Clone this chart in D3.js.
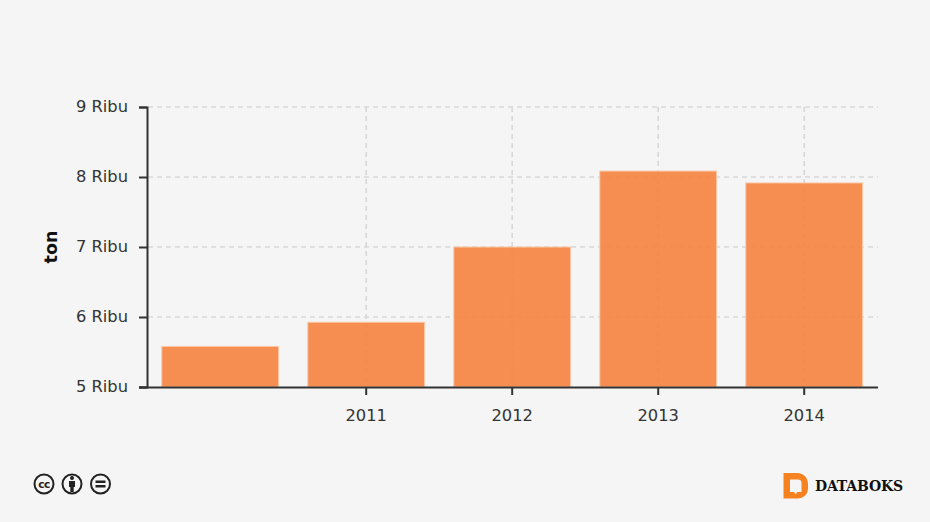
<!DOCTYPE html>
<html><head><meta charset="utf-8">
<script src="https://cdn.jsdelivr.net/npm/d3@7/dist/d3.min.js"></script>
<style>
html,body{margin:0;padding:0;background:#f5f5f5}
svg{display:block}
text{font-family:"DejaVu Sans",sans-serif}
</style></head><body><div id="chart"></div>
<script>
const categories = ["2010", "2011", "2012", "2013", "2014"];
const tickLabels = ["2011", "2012", "2013", "2014"];
const values = [5580, 5925, 7000, 8085, 7915];
const yTicks = [5000, 6000, 7000, 8000, 9000];
const yAxisTitle = "ton";
const brand = "DATABOKS";

const W = 930, H = 522;
const svg = d3.select("#chart").append("svg").attr("width", W).attr("height", H);
svg.append("rect").attr("width", W).attr("height", H).attr("fill", "#f5f5f5");

const x = d3.scaleBand().domain(categories).range([147.2, 877.2]).paddingInner(0.2).paddingOuter(0.1);
const y = d3.scaleLinear().domain([5000, 9000]).range([387, 107]);

// grid
const grid = svg.append("g").attr("stroke", "#d8d8d8").attr("stroke-width", 1.6).attr("stroke-dasharray", "5,4").attr("fill", "none");
grid.selectAll(".h").data(yTicks.slice(1)).join("line").attr("class", "h")
  .attr("x1", 148).attr("x2", 878).attr("y1", d => y(d)).attr("y2", d => y(d));
grid.selectAll(".v").data(tickLabels).join("line").attr("class", "v")
  .attr("x1", d => x(d) + x.bandwidth() / 2).attr("x2", d => x(d) + x.bandwidth() / 2)
  .attr("y1", 107).attr("y2", 387);

// bars
svg.append("g").selectAll("rect").data(values).join("rect")
  .attr("x", (d, i) => x(categories[i]))
  .attr("width", x.bandwidth())
  .attr("y", d => y(d))
  .attr("height", d => y(5000) - y(d))
  .attr("fill", "#f58342").attr("fill-opacity", 0.92)
  .attr("stroke", "#fbc9a9").attr("stroke-width", 1);

// axes
const axisColor = "#333333";
const gy = svg.append("g").attr("transform", "translate(147,0)")
  .call(d3.axisLeft(y).tickValues(yTicks).tickSize(8).tickPadding(11).tickFormat(d => (d / 1000) + " Ribu"));
const gx = svg.append("g").attr("transform", "translate(0,387)")
  .call(d3.axisBottom(x).tickValues(tickLabels).tickSize(8).tickPadding(14));
gx.select(".domain").attr("d", "M139,0.500H878");
[gy, gx].forEach(g => {
  g.selectAll(".domain").attr("stroke", axisColor).attr("stroke-width", 2).attr("fill", "none");
  g.selectAll(".tick line").attr("stroke", axisColor).attr("stroke-width", 2);
  g.selectAll("text").attr("fill", "#333").style("font-size", "16.3px").style("font-family", '"DejaVu Sans",sans-serif');
});
gy.selectAll("text").attr("dy", "0.27em");

svg.append("text").attr("transform", "translate(57,247) rotate(-90)").attr("text-anchor", "middle")
  .attr("font-weight", "bold").attr("font-size", 17.5).attr("fill", "#111").text(yAxisTitle);

// licence badges
const badges = svg.append("g").attr("fill", "none").attr("stroke", "#222");
[44, 72, 100.5].forEach(cx => {
  badges.append("circle").attr("cx", cx).attr("cy", 484).attr("r", 9.5).attr("stroke-width", 2).attr("fill", "#f5f5f5");
});
svg.append("text").attr("x", 44).attr("y", 488).attr("text-anchor", "middle").attr("font-size", 10.5)
  .attr("font-weight", "bold").attr("letter-spacing", "-0.5").attr("fill", "#222").text("cc");
svg.append("circle").attr("cx", 72).attr("cy", 478).attr("r", 2).attr("fill", "#222");
svg.append("path").attr("d", "M69,481h6v6h-1.300v5h-3.400v-5h-1.300z").attr("fill", "#222");
svg.append("rect").attr("x", 95.5).attr("y", 480.5).attr("width", 10).attr("height", 2.5).attr("fill", "#222");
svg.append("rect").attr("x", 95.5).attr("y", 485).attr("width", 10).attr("height", 2.5).attr("fill", "#222");

// brand
svg.append("path").attr("fill-rule", "evenodd").attr("fill", "#f5821f")
  .attr("d", "M783.5,473H797C804,473 808,478 808,484V488C808,494 804,498.500 797,498.500H783.500Z M790,479.500V492H794L796,494.500L797,492H801.500V483C801.500,480.500 800,479.500 798,479.500Z");
svg.append("text").attr("x", 815).attr("y", 491).attr("font-size", 14).attr("font-weight", "bold")
  .style("font-family", '"DejaVu Serif",serif').attr("fill", "#111").attr("textLength", 88).text(brand);
</script></body></html>
